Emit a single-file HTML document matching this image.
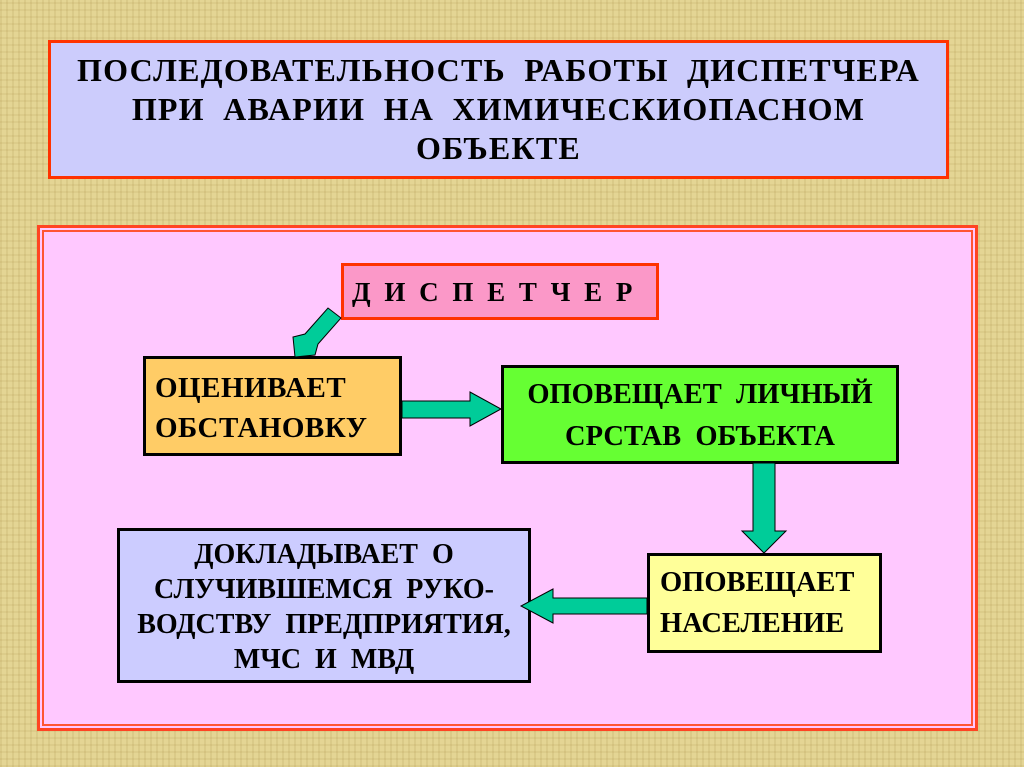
<!DOCTYPE html>
<html><head><meta charset="utf-8"><style>
body{margin:0;width:1024px;height:767px;overflow:hidden;background:#e6d79a;font-family:"Liberation Serif",serif;font-weight:bold;position:relative}
.bg{position:absolute;inset:0;background:
repeating-linear-gradient(90deg,rgba(150,120,50,.12) 0 2px,transparent 2px 6px),
repeating-linear-gradient(0deg,rgba(150,120,50,.10) 0 2px,transparent 2px 7px),#e4d594}
.b{position:absolute;box-sizing:border-box}
.t{position:absolute;white-space:nowrap;color:#000}
</style></head><body>
<div class="bg"></div>
<div class="b" style="left:48px;top:40px;width:901px;height:139px;background:#ccccfc;border:3px solid #ff3300"></div>
<div class="t" style="left:48px;width:901px;top:51px;text-align:center;font-size:32px;letter-spacing:1.2px;line-height:39px">ПОСЛЕДОВАТЕЛЬНОСТЬ&nbsp; РАБОТЫ&nbsp; ДИСПЕТЧЕРА<br>ПРИ&nbsp; АВАРИИ&nbsp; НА&nbsp; ХИМИЧЕСКИОПАСНОМ<br>ОБЪЕКТЕ</div>

<div class="b" style="left:37px;top:225px;width:941px;height:506px;background:#ffc8ff;border:3px solid #ff4422"></div>
<div class="b" style="left:42px;top:230px;width:931px;height:496px;border:2px solid #ff5533"></div>

<div class="b" style="left:341px;top:263px;width:318px;height:57px;background:#fb98c8;border:3px solid #ff3300"></div>
<div class="t" style="left:352px;top:277px;font-size:27px;letter-spacing:3.5px">Д И С П Е Т Ч Е Р</div>

<div class="b" style="left:143px;top:356px;width:259px;height:100px;background:#ffcc66;border:3px solid #000"></div>
<div class="t" style="left:155px;top:368px;font-size:29px;letter-spacing:0.5px;line-height:40px">ОЦЕНИВАЕТ<br>ОБСТАНОВКУ</div>

<div class="b" style="left:501px;top:365px;width:398px;height:99px;background:#66ff33;border:3px solid #000"></div>
<div class="t" style="left:501px;width:398px;text-align:center;top:374px;font-size:28.5px;line-height:42px">ОПОВЕЩАЕТ&nbsp; ЛИЧНЫЙ<br>СРСТАВ&nbsp; ОБЪЕКТА</div>

<div class="b" style="left:647px;top:553px;width:235px;height:100px;background:#ffff99;border:3px solid #000"></div>
<div class="t" style="left:660px;top:562px;font-size:28.5px;line-height:41px">ОПОВЕЩАЕТ<br>НАСЕЛЕНИЕ</div>

<div class="b" style="left:117px;top:528px;width:414px;height:155px;background:#ccccff;border:3px solid #000"></div>
<div class="t" style="left:117px;width:414px;text-align:center;top:537px;font-size:28px;line-height:35px">ДОКЛАДЫВАЕТ&nbsp; О<br>СЛУЧИВШЕМСЯ&nbsp; РУКО-<br>ВОДСТВУ&nbsp; ПРЕДПРИЯТИЯ,<br>МЧС&nbsp; И&nbsp; МВД</div>

<svg width="1024" height="767" style="position:absolute;left:0;top:0">
<g fill="#00cc99" stroke="#000" stroke-width="1">
<polygon points="341,318 328,308 305,334 293,337 295,357 315,355 318,344"/>
<polygon points="402,401 470,401 470,392 501,409 470,426 470,418 402,418"/>
<polygon points="753,463 775,463 775,531 786,531 764,553 742,531 753,531"/>
<polygon points="647,598 553,598 553,589 521,606 553,623 553,614 647,614"/>
</g></svg>
</body></html>
